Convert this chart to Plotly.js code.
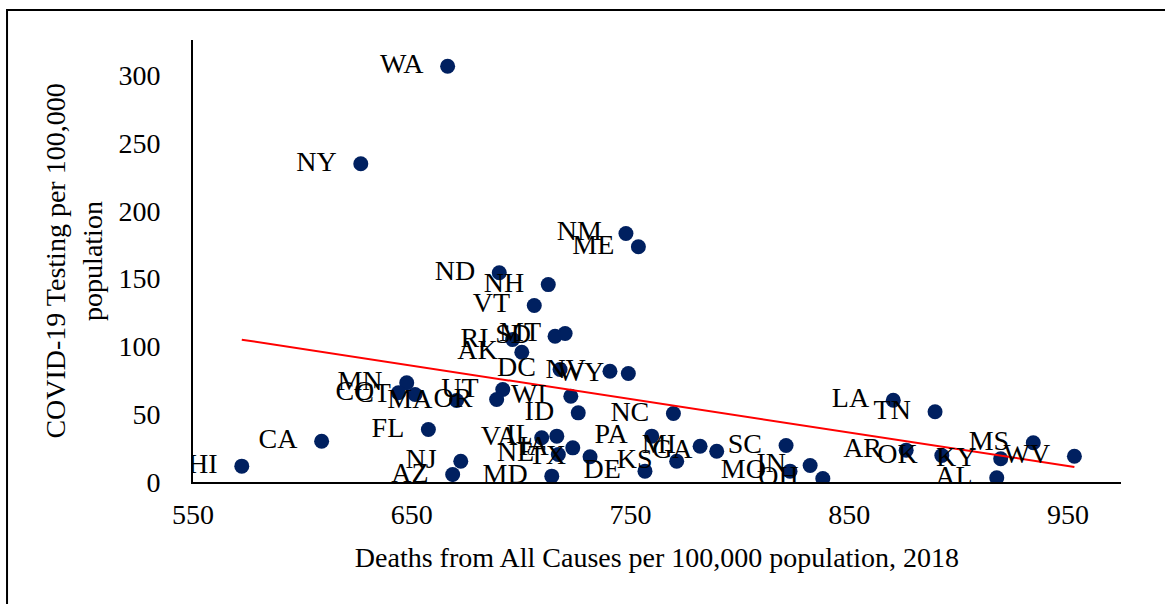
<!DOCTYPE html>
<html>
<head>
<meta charset="utf-8">
<script src="https://cdn.plot.ly/plotly-3.0.1.min.js"></script>
<style>
  html, body { margin: 0; padding: 0; background: #fff; overflow: hidden; }
  #chart { width: 1165px; height: 604px; }
</style>
</head>
<body>
<div id="chart"></div>
<script>
// State abbreviations
const states = ["WA","NY","NM","ME","ND","NH","VT","MT","SD","RI","AK","DC","NV","WY",
  "MN","CO","CT","MA","UT","OR","FL","CA","HI","NJ","AZ","WI","ID","NC","VA","IL",
  "IA","NE","TX","MD","PA","DE","KS","MI","GA","SC","MO","IN","OH","LA","TN","AR",
  "OK","KY","MS","WV","AL"];
// Deaths from all causes per 100,000 population, 2018
const deaths = [666.4,626.7,747.9,753.6,690.0,712.4,706.0,720.1,715.5,696.1,700.3,717.8,740.6,749.0,
  647.7,643.9,651.5,670.5,691.6,688.8,657.6,608.8,572.3,672.4,668.7,722.7,726.1,769.6,709.4,716.3,
  723.6,717.0,731.5,714.0,759.7,756.6,771.1,781.8,789.4,821.1,822.9,832.1,837.9,870.1,889.2,876.0,
  892.3,919.2,934.1,952.9,917.4];
// COVID-19 testing per 100,000 population
const testing = [306.6,234.7,183.3,173.5,154.3,145.6,130.2,109.5,107.5,105.1,95.7,83.0,81.7,80.0,
  73.2,65.8,64.5,60.1,68.2,60.8,38.7,30.1,11.7,15.3,5.5,63.3,51.0,50.5,32.6,33.8,
  25.2,20.3,18.6,4.3,33.8,8.0,15.3,26.4,22.7,26.9,8.0,12.2,2.6,60.3,51.8,23.5,
  19.5,17.1,28.9,19.0,3.1];
const xTicks = [550, 650, 750, 850, 950];
const yTicks = [0, 50, 100, 150, 200, 250, 300];

// Linear least-squares trendline from the data
const n = deaths.length;
const mx = deaths.reduce((a,b)=>a+b,0)/n;
const my = testing.reduce((a,b)=>a+b,0)/n;
let sxy = 0, sxx = 0;
for (let i = 0; i < n; i++) { sxy += (deaths[i]-mx)*(testing[i]-my); sxx += (deaths[i]-mx)**2; }
const slope = sxy/sxx, intercept = my - slope*mx;
const xmin = Math.min(...deaths), xmax = Math.max(...deaths);
const trendX = [xmin, xmax];
const trendY = trendX.map(v => intercept + slope*v);

const FONT = '"Liberation Serif", "Times New Roman", serif';

const traces = [
  { x: deaths, y: testing, type: 'scatter', mode: 'markers',
    marker: { color: '#002060', size: 15 }, hoverinfo: 'skip', showlegend: false },
  { x: trendX, y: trendY, type: 'scatter', mode: 'lines',
    line: { color: '#FF0000', width: 2 }, hoverinfo: 'skip', showlegend: false },
  { x: deaths, y: testing, type: 'scatter', mode: 'markers+text', text: states,
    textposition: 'middle left', textfont: { family: FONT, size: 28, color: '#000' },
    marker: { size: 37, opacity: 0 }, hoverinfo: 'skip', showlegend: false }
];

const layout = {
  width: 1165, height: 604,
  margin: { l: 193, r: 44, t: 40, b: 122 },
  paper_bgcolor: '#fff', plot_bgcolor: '#fff',
  font: { family: FONT, size: 28, color: '#000' },
  xaxis: {
    range: [550, 974.2], tickvals: xTicks, ticktext: xTicks.map(String),
    showgrid: false, zeroline: false, showline: true, linecolor: '#000', linewidth: 2,
    ticks: '', ticklabelstandoff: 6,
    tickfont: { family: FONT, size: 28, color: '#000' },
    title: { text: 'Deaths from All Causes per 100,000 population, 2018',
             font: { family: FONT, size: 28, color: '#000' }, standoff: 19 }
  },
  yaxis: {
    range: [0, 326], tickvals: yTicks, ticktext: yTicks.map(String),
    showgrid: false, zeroline: false, showline: true, linecolor: '#000', linewidth: 2,
    ticks: '', ticklabelstandoff: 25,
    tickfont: { family: FONT, size: 28, color: '#000' },
    title: { text: 'COVID-19 Testing per 100,000<br>population',
             font: { family: FONT, size: 28, color: '#000' }, standoff: 8 }
  },
  shapes: [{
    type: 'rect', xref: 'paper', yref: 'paper',
    x0: -0.2004, x1: 1.08, y0: -0.35, y1: 1.0679,
    line: { color: '#000', width: 2 }, fillcolor: 'rgba(0,0,0,0)', layer: 'above'
  }]
};

Plotly.newPlot('chart', traces, layout, { staticPlot: true, displayModeBar: false });
</script>
</body>
</html>
